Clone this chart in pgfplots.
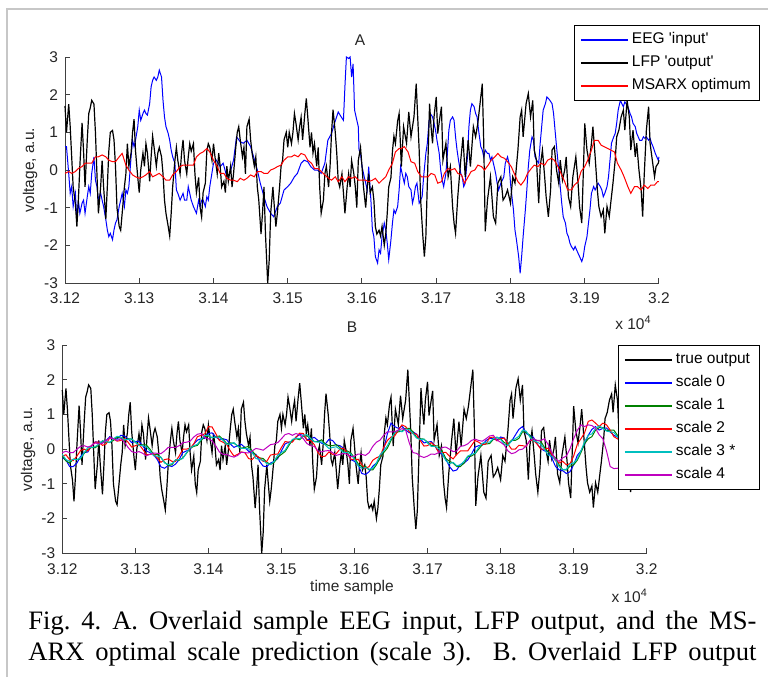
\documentclass[border=0pt]{standalone}
\usepackage{fontspec}
\setmainfont{Liberation Sans}
\newfontfamily\capfont{Liberation Serif}
\usepackage{pgfplots}
\usepackage{pgfplotstable}
\pgfplotsset{compat=1.18}

\definecolor{mgreen}{rgb}{0,0.5,0}
\definecolor{mcyan}{rgb}{0,0.75,0.75}
\definecolor{mmag}{rgb}{0.75,0,0.75}
\definecolor{mblue}{rgb}{0,0,1}
\definecolor{mred}{rgb}{1,0,0}
\definecolor{framegray}{gray}{0.78}
\newcommand{\mfont}{\fontsize{7.75}{9}\selectfont}

% LFP output (same trace in A and B)
\pgfplotstableread{
s v
31200 1.7
31202 1.0
31205 1.75
31207 1.15
31209 0.35
31211 -0.45
31214 -0.9
31216 -1.5
31218 -0.8
31220 0.1
31223 1.25
31225 0.5
31227 -0.45
31230 0.8
31232 1.5
31234 1.65
31236 1.85
31239 1.75
31241 1.0
31243 -0.1
31245 -1.15
31248 -0.45
31250 0.25
31252 -0.45
31255 -1.3
31257 -0.45
31259 0.5
31261 1.0
31264 1.05
31266 0.8
31268 0.1
31270 -1.0
31273 -1.5
31275 -1.6
31277 -1.15
31280 -0.45
31282 -0.1
31284 0.7
31286 0.1
31289 0.45
31291 1.0
31293 1.35
31295 0.5
31298 -0.2
31300 -0.6
31302 0.0
31305 0.45
31307 0.1
31309 0.7
31311 0.45
31314 -0.3
31316 0.35
31318 0.9
31320 0.6
31323 0.1
31325 0.45
31327 0.6
31330 0.35
31332 -0.1
31334 -0.8
31336 -1.15
31339 -1.5
31341 -1.75
31343 -1.15
31345 -0.45
31348 0.25
31350 0.6
31352 0.25
31355 -0.1
31357 0.45
31359 0.8
31361 0.25
31364 -0.1
31366 0.35
31368 0.7
31370 0.5
31373 0.7
31375 -0.1
31377 -0.6
31380 -0.2
31382 -1.0
31384 -1.25
31386 -0.6
31389 -0.35
31391 0.5
31393 0.7
31395 0.6
31398 0.25
31400 0.7
31402 0.35
31405 -0.1
31407 0.45
31409 0.1
31411 -0.45
31414 -0.3
31416 -0.6
31418 0.1
31420 -0.3
31423 0.1
31425 -0.45
31427 -0.1
31430 0.6
31432 1.0
31434 1.15
31436 0.8
31439 0.35
31441 0.6
31443 -0.1
31445 1.15
31448 1.35
31450 0.8
31452 0.45
31455 0.1
31457 0.35
31459 -0.45
31461 -0.8
31464 -1.7
31466 -1.15
31468 -0.45
31470 -1.7
31473 -3.0
31475 -2.4
31477 -1.15
31480 -0.45
31482 -1.0
31484 -1.5
31486 -1.15
31489 -0.45
31491 0.1
31493 0.25
31495 0.8
31498 1.0
31500 0.6
31502 1.0
31505 0.7
31507 1.0
31509 1.5
31511 1.25
31514 0.8
31516 1.15
31518 1.4
31520 0.8
31523 1.5
31525 1.9
31527 1.4
31530 0.6
31532 1.0
31534 0.45
31536 0.7
31539 0.1
31541 0.6
31543 -0.45
31545 -1.15
31548 -0.8
31550 -0.1
31552 0.1
31555 -0.45
31557 0.1
31559 1.0
31561 1.6
31564 1.0
31566 0.45
31568 -0.3
31570 -0.45
31573 -0.1
31575 -0.6
31577 -1.15
31580 -0.45
31582 -0.1
31584 -0.45
31586 0.25
31589 -0.1
31591 -0.45
31593 -1.0
31595 0.25
31598 0.6
31600 0.1
31602 -0.45
31605 -1.0
31607 -0.45
31609 -0.1
31611 -0.6
31614 -0.45
31616 -0.8
31618 -1.5
31620 -1.7
31623 -1.6
31625 -1.75
31627 -1.5
31630 -2.0
31632 -1.7
31634 -1.15
31636 -0.45
31639 -0.2
31641 0.5
31643 0.9
31645 0.7
31648 1.3
31650 1.5
31653 0.09
31656 1.15
31660 0.71
31663 1.54
31666 0.88
31670 1.41
31673 2.29
31675 1.41
31677 0.53
31679 -0.80
31682 -1.77
31684 -2.30
31686 -1.77
31688 -0.35
31691 1.76
31693 1.15
31695 0.71
31697 1.41
31700 1.94
31702 0.97
31705 1.41
31707 1.68
31709 0.26
31713 0.71
31716 -0.18
31719 0.09
31722 -0.97
31724 -1.41
31726 -1.68
31729 -0.71
31733 0.26
31736 0.88
31739 -0.18
31743 0.79
31746 0.09
31750 1.15
31753 0.88
31756 1.24
31760 1.94
31762 2.29
31764 0.71
31766 -1.63
31769 -0.80
31773 -0.18
31777 -1.24
31780 -1.41
31783 -0.35
31787 -0.18
31790 -0.80
31793 -0.70
31796 -0.53
31800 -0.88
31803 -0.18
31806 -0.35
31810 0.53
31813 1.41
31815 1.59
31817 0.88
31821 1.76
31824 2.03
31827 1.41
31830 1.85
31832 0.53
31835 0.26
31838 -0.88
31840 0.09
31843 0.53
31846 -0.18
31848 -0.71
31851 -1.24
31854 -0.53
31856 0.53
31859 0.62
31862 0.0
31865 -0.35
31867 0.26
31870 -0.27
31873 0.0
31875 0.35
31878 -0.71
31881 -0.97
31884 -0.18
31888 0.35
31891 -0.35
31893 -0.97
31896 -1.41
31899 0.53
31900 1.24
31903 0.53
31906 0.18
31909 0.71
31911 1.15
31914 0.35
31917 -0.53
31919 -0.97
31922 -1.24
31925 -1.06
31927 -1.68
31930 -0.97
31933 -1.24
31935 -0.88
31938 -0.35
31941 0.26
31943 0.88
31946 1.06
31949 1.41
31952 1.59
31954 1.06
31957 1.85
31960 1.41
31962 0.53
31965 1.06
31968 0.35
31970 0.71
31973 0.0
31976 -0.53
31978 -1.24
31980 -0.18
31983 1.06
31986 1.68
31988 0.71
31991 0.26
31994 -0.18
31996 0.09
31999 0.18
32000 0.26
}\lfp

% EEG input
\pgfplotstableread{
s v
31200 0.62
31202 0.62
31205 -0.09
31207 -0.62
31209 -0.44
31211 -0.97
31214 -0.62
31216 -1.32
31218 -0.80
31220 -1.15
31223 -0.88
31225 -0.80
31227 -1.15
31230 -0.71
31232 -0.44
31234 -0.62
31236 -0.09
31239 0.35
31241 -0.27
31243 -0.44
31245 -0.80
31248 -0.62
31250 -0.80
31252 -0.97
31255 -1.32
31257 -1.59
31259 -1.77
31261 -1.68
31264 -1.85
31266 -1.59
31268 -1.41
31270 -1.32
31273 -0.97
31275 -0.80
31277 -0.62
31280 -0.97
31282 -0.53
31284 -0.62
31286 -0.44
31289 0.35
31291 0.79
31293 0.62
31295 0.79
31298 1.15
31300 1.59
31302 1.32
31305 1.50
31307 1.59
31309 1.50
31311 1.46
31314 1.76
31316 2.21
31318 2.38
31320 2.47
31323 2.38
31325 2.47
31327 2.65
31330 2.47
31332 1.85
31334 1.41
31336 1.15
31339 0.97
31341 0.79
31343 0.53
31345 0.35
31348 0.18
31350 -0.53
31352 -0.62
31355 -0.80
31357 -0.71
31359 -0.62
31361 -0.80
31364 -0.80
31366 -0.44
31368 -0.62
31370 -0.80
31373 -0.97
31375 -1.06
31377 -1.15
31380 -0.80
31382 -0.97
31384 -0.80
31386 -0.80
31389 -0.97
31391 -0.71
31393 -0.80
31395 -0.44
31400 0.18
31404 0.26
31409 0.09
31413 0.18
31418 -0.18
31422 -0.09
31427 0.26
31431 0.88
31436 0.75
31440 0.71
31445 0.79
31450 0.62
31454 0.35
31459 0.0
31463 -0.35
31468 -0.71
31472 -0.97
31477 -1.15
31481 -1.24
31486 -0.97
31490 -0.88
31495 -0.53
31500 -0.44
31504 -0.35
31509 -0.18
31513 -0.09
31518 0.18
31522 0.26
31527 0.22
31531 0.09
31536 0.0
31540 0.0
31545 -0.09
31550 0.18
31554 0.79
31559 0.97
31563 1.24
31568 1.54
31572 1.41
31575 1.32
31577 2.21
31579 3.0
31582 2.96
31584 3.0
31586 2.47
31588 2.82
31590 1.59
31595 1.15
31596 0.53
31598 0.44
31600 0.10
31603 -0.18
31605 -0.35
31607 -0.53
31609 0.09
31612 -0.80
31614 -1.59
31616 -1.77
31618 -2.30
31621 -2.47
31623 -2.12
31625 -2.21
31627 -1.77
31630 -1.41
31632 -1.59
31634 -1.94
31636 -2.38
31639 -1.85
31641 -1.41
31643 -1.06
31645 -1.15
31648 -0.97
31650 -0.53
31652 0.09
31654 -0.09
31657 -0.35
31659 -0.09
31661 -0.18
31663 -0.44
31666 -0.53
31668 -0.88
31670 -0.71
31672 -0.44
31674 -0.35
31677 -0.88
31679 -0.80
31681 -0.71
31683 -0.18
31686 0.44
31688 0.71
31690 1.24
31692 1.50
31695 1.41
31697 1.24
31699 1.06
31701 0.79
31704 0.44
31706 0.0
31708 -0.27
31710 -0.44
31713 -0.09
31715 0.44
31717 1.06
31719 1.32
31722 1.41
31724 1.32
31726 0.88
31728 0.53
31730 0.26
31733 -0.09
31735 -0.18
31737 -0.44
31739 -0.35
31742 0.35
31744 1.15
31746 1.59
31748 1.76
31751 1.68
31753 1.50
31755 1.41
31757 1.06
31760 0.62
31762 0.53
31764 0.35
31766 0.53
31769 0.44
31771 0.44
31773 0.26
31775 0.35
31778 0.09
31780 -0.09
31782 -0.35
31784 -0.53
31787 -0.35
31789 -0.27
31791 -0.18
31793 0.18
31796 0.35
31798 0.18
31800 -0.35
31802 -0.71
31804 -1.06
31806 -1.59
31808 -1.85
31811 -2.30
31813 -2.74
31815 -2.30
31817 -1.77
31820 -1.06
31822 -0.53
31824 0.09
31826 0.53
31829 0.88
31831 0.79
31833 0.35
31835 0.26
31838 0.18
31840 0.71
31842 1.15
31844 1.59
31847 1.76
31849 1.94
31851 1.90
31853 1.85
31856 1.76
31858 1.50
31860 1.06
31862 0.62
31865 0.0
31867 -0.44
31869 -0.88
31871 -1.24
31874 -1.41
31876 -1.68
31878 -1.77
31880 -1.94
31882 -2.03
31885 -2.12
31887 -2.03
31889 -2.12
31891 -2.21
31894 -2.34
31896 -2.43
31898 -2.30
31900 -2.03
31903 -1.77
31905 -1.41
31907 -1.06
31909 -0.62
31912 -0.44
31914 -0.53
31916 -0.44
31918 -0.35
31921 -0.44
31923 -0.53
31925 -0.71
31927 -0.62
31930 -0.44
31932 -0.18
31934 0.26
31936 0.71
31939 0.88
31941 0.97
31943 1.24
31945 1.59
31948 1.85
31950 1.76
31952 1.68
31954 1.81
31957 1.72
31959 1.63
31961 1.50
31963 1.41
31965 1.24
31968 1.15
31970 0.97
31972 0.88
31974 0.79
31977 0.79
31979 0.88
31981 0.84
31983 0.88
31986 0.79
31988 0.84
31990 0.71
31992 0.62
31995 0.44
31997 0.35
31999 0.26
32000 0.35
}\eeg

% MSARX optimum
\pgfplotstableread{
s v
31200 -0.09
31205 -0.04
31209 -0.09
31214 -0.04
31218 0.04
31223 0.09
31227 0.18
31232 0.18
31236 0.18
31241 0.35
31245 0.35
31250 0.40
31255 0.35
31259 0.26
31264 0.22
31268 0.22
31273 0.35
31277 0.44
31282 0.13
31286 0.0
31291 -0.13
31295 -0.18
31300 -0.22
31305 -0.18
31309 -0.13
31314 -0.04
31318 -0.18
31323 -0.13
31327 -0.09
31332 -0.18
31336 -0.27
31341 -0.27
31345 -0.13
31350 -0.04
31355 0.09
31359 0.13
31364 0.13
31368 0.13
31373 0.13
31377 0.35
31382 0.44
31386 0.48
31391 0.57
31395 0.48
31400 0.26
31405 0.09
31409 -0.09
31414 -0.09
31418 -0.22
31423 -0.27
31427 -0.27
31432 -0.31
31436 -0.22
31441 -0.27
31445 -0.22
31450 -0.13
31455 -0.18
31459 -0.04
31464 -0.04
31468 -0.09
31473 -0.09
31477 0.0
31482 0.04
31486 0.09
31491 0.13
31495 0.26
31500 0.35
31505 0.35
31509 0.40
31514 0.35
31518 0.44
31523 0.40
31527 0.26
31532 0.18
31536 0.04
31541 0.04
31545 -0.04
31550 -0.13
31555 -0.22
31559 -0.27
31564 -0.18
31568 -0.31
31573 -0.18
31577 -0.31
31582 -0.18
31586 -0.22
31591 -0.18
31595 -0.27
31600 -0.27
31605 -0.27
31609 -0.31
31614 -0.27
31618 -0.22
31623 -0.35
31627 -0.27
31632 -0.18
31636 0.0
31641 0.18
31645 0.48
31650 0.57
31653 0.57
31657 0.62
31662 0.48
31666 0.22
31671 0.18
31675 -0.04
31680 -0.18
31684 -0.18
31689 -0.18
31693 -0.09
31698 -0.13
31702 -0.35
31707 -0.31
31711 -0.09
31716 0.04
31720 0.0
31725 0.04
31729 -0.09
31734 -0.13
31738 -0.35
31743 -0.18
31747 -0.04
31752 0.0
31756 0.13
31761 0.09
31765 0.0
31770 0.13
31774 0.26
31779 0.35
31783 0.44
31787 0.35
31792 0.31
31796 0.22
31801 0.09
31805 -0.09
31810 -0.31
31814 -0.40
31819 -0.27
31823 -0.09
31828 0.04
31832 0.13
31837 0.09
31841 0.18
31846 0.13
31850 0.26
31855 0.31
31859 0.26
31864 0.09
31868 -0.09
31873 -0.31
31877 -0.53
31882 -0.53
31886 -0.40
31891 -0.31
31895 -0.04
31900 0.09
31904 0.26
31909 0.53
31913 0.79
31918 0.79
31922 0.66
31926 0.62
31931 0.57
31935 0.53
31940 0.48
31944 0.18
31949 0.0
31953 -0.18
31958 -0.44
31962 -0.62
31967 -0.44
31971 -0.44
31976 -0.53
31980 -0.40
31985 -0.49
31989 -0.40
31994 -0.40
31998 -0.31
32000 -0.31
}\msarx

% scale predictions, panel B
\pgfplotstableread{
s c0 c1 c2 c3 c4
31200 -0.25 -0.2 -0.2 -0.15 -0.1
31205 -0.31 -0.34 -0.16 -0.30 -0.06
31210 -0.5 -0.4 -0.3 -0.35 -0.1
31215 -0.50 -0.29 -0.33 -0.29 -0.10
31220 -0.4 -0.3 -0.2 -0.3 0.0
31225 -0.21 -0.28 -0.04 -0.26 0.08
31230 -0.1 -0.12 0.0 -0.1 0.1
31235 -0.08 -0.01 -0.05 0.05 0.06
31240 0.1 0.05 0.1 0.05 0.1
31245 0.21 0.04 0.20 0.07 0.18
31250 0.2 0.12 0.2 0.15 0.15
31255 0.20 0.24 0.11 0.24 0.17
31260 0.25 0.2 0.15 0.22 0.25
31265 0.36 0.20 0.33 0.19 0.32
31270 0.3 0.25 0.3 0.3 0.3
31275 0.29 0.34 0.23 0.37 0.25
31280 0.4 0.32 0.25 0.35 0.3
31285 0.38 0.25 0.31 0.27 0.21
31290 0.3 0.3 0.2 0.28 0.05
31295 0.19 0.29 0.06 0.30 -0.07
31300 0.22 0.2 0.1 0.2 -0.1
31305 0.23 0.12 0.14 0.10 -0.07
31310 0.1 0.12 0.0 0.1 -0.12
31315 -0.05 0.12 -0.16 0.07 -0.19
31320 -0.1 0.0 -0.15 -0.05 -0.15
31325 -0.16 -0.15 -0.14 -0.19 -0.11
31330 -0.3 -0.15 -0.25 -0.2 -0.12
31335 -0.51 -0.24 -0.38 -0.23 -0.13
31340 -0.55 -0.38 -0.3 -0.4 -0.05
31345 -0.47 -0.47 -0.28 -0.44 0.05
31350 -0.5 -0.45 -0.35 -0.42 0.05
31355 -0.43 -0.31 -0.35 -0.31 0.05
31360 -0.3 -0.32 -0.2 -0.3 0.1
31365 -0.10 -0.25 0.0 -0.27 0.19
31370 -0.05 -0.12 0.0 -0.1 0.2
31375 -0.01 0.03 0.03 0.04 0.23
31380 0.15 0.08 0.15 0.1 0.35
31385 0.26 0.11 0.36 0.14 0.43
31390 0.3 0.25 0.4 0.28 0.45
31395 0.31 0.36 0.44 0.40 0.34
31400 0.45 0.38 0.65 0.4 0.3
31405 0.47 0.33 0.64 0.33 0.24
31410 0.35 0.35 0.45 0.35 0.1
31415 0.28 0.38 0.25 0.34 -0.08
31420 0.3 0.28 0.2 0.25 -0.15
31425 0.27 0.16 0.14 0.14 -0.15
31430 0.15 0.18 -0.05 0.15 -0.2
31435 0.05 0.17 -0.20 0.19 -0.23
31440 0.1 0.1 -0.15 0.08 -0.18
31445 0.14 0.03 -0.08 0.02 -0.09
31450 0.05 0.05 -0.1 0.02 -0.1
31455 -0.06 0.08 -0.27 0.01 -0.11
31460 -0.1 -0.05 -0.3 -0.1 -0.05
31465 -0.15 -0.18 -0.18 -0.27 0.02
31470 -0.35 -0.25 -0.25 -0.3 0.0
31475 -0.49 -0.27 -0.35 -0.32 -0.03
31480 -0.5 -0.38 -0.35 -0.42 0.05
31485 -0.40 -0.44 -0.17 -0.44 0.13
31490 -0.35 -0.38 -0.15 -0.35 0.15
31495 -0.27 -0.23 -0.14 -0.17 0.19
31500 -0.05 -0.15 0.05 -0.1 0.3
31505 0.15 -0.07 0.22 -0.03 0.42
31510 0.2 0.1 0.2 0.15 0.45
31515 0.23 0.26 0.20 0.28 0.40
31520 0.35 0.3 0.35 0.32 0.45
31525 0.42 0.27 0.46 0.30 0.41
31530 0.4 0.38 0.45 0.4 0.3
31535 0.27 0.38 0.25 0.42 0.16
31540 0.3 0.32 0.25 0.3 0.1
31545 0.34 0.22 0.13 0.22 0.08
31550 0.25 0.22 -0.1 0.2 -0.05
31555 0.17 0.27 -0.22 0.21 -0.08
31560 0.15 0.15 -0.2 0.12 -0.05
31565 0.28 0.10 -0.08 0.02 -0.04
31570 0.25 0.1 -0.15 0.05 -0.1
31575 0.12 0.13 -0.13 0.07 -0.18
31580 0.1 0.05 0.0 0.0 -0.15
31585 0.03 -0.06 0.03 -0.10 -0.12
31590 -0.1 -0.05 -0.1 -0.1 -0.15
31595 -0.30 -0.11 -0.29 -0.14 -0.22
31600 -0.35 -0.25 -0.3 -0.3 -0.2
31605 -0.46 -0.42 -0.29 -0.48 -0.14
31610 -0.7 -0.5 -0.45 -0.55 -0.15
31615 -0.73 -0.49 -0.56 -0.53 -0.18
31620 -0.65 -0.6 -0.5 -0.58 -0.1
31625 -0.49 -0.60 -0.32 -0.55 0.08
31630 -0.4 -0.45 -0.25 -0.4 0.2
31635 -0.28 -0.25 -0.20 -0.16 0.26
31640 0.0 -0.1 0.05 -0.05 0.4
31645 0.44 0.03 0.25 0.10 0.50
31650 0.75 0.25 0.35 0.3 0.5
31655 0.65 0.46 0.38 0.48 0.50
31660 0.6 0.5 0.55 0.55 0.55
31665 0.66 0.52 0.70 0.50 0.59
31670 0.55 0.6 0.65 0.58 0.55
31675 0.47 0.60 0.50 0.56 0.18
31680 0.5 0.5 0.45 0.45 -0.1
31685 0.43 0.34 0.43 0.32 -0.12
31690 0.3 0.3 0.25 0.28 -0.2
31695 0.18 0.29 0.09 0.29 -0.24
31700 0.2 0.2 0.1 0.18 -0.2
31705 0.22 0.11 0.19 0.08 -0.14
31710 0.1 0.1 0.1 0.08 -0.15
31715 -0.08 0.09 -0.08 0.02 -0.10
31720 -0.15 -0.05 -0.1 -0.12 0.05
31725 -0.29 -0.27 -0.09 -0.33 0.06
31730 -0.5 -0.35 -0.2 -0.42 0.0
31735 -0.63 -0.40 -0.28 -0.38 -0.07
31740 -0.6 -0.5 -0.15 -0.48 -0.05
31745 -0.44 -0.50 -0.05 -0.45 0.08
31750 -0.4 -0.4 -0.05 -0.35 0.1
31755 -0.31 -0.22 -0.05 -0.20 0.15
31760 -0.15 -0.2 0.1 -0.15 0.25
31765 0.06 -0.13 0.25 -0.12 0.29
31770 0.1 0.0 0.2 0.05 0.25
31775 0.12 0.13 0.13 0.17 0.23
31780 0.25 0.15 0.15 0.2 0.3
31785 0.31 0.16 0.33 0.20 0.38
31790 0.3 0.28 0.35 0.3 0.4
31795 0.26 0.33 0.24 0.35 0.26
31800 0.35 0.3 0.3 0.28 0.2
31805 0.32 0.19 0.32 0.14 0.12
31810 0.15 0.15 0.15 0.1 -0.05
31815 0.23 0.26 0.0 0.24 -0.13
31820 0.4 0.25 0.0 0.3 -0.1
31825 0.57 0.31 0.11 0.37 -0.02
31830 0.65 0.5 0.1 0.55 0.0
31835 0.45 0.48 0.08 0.52 0.09
31840 0.4 0.4 0.25 0.35 0.25
31845 0.34 0.28 0.25 0.25 0.30
31850 0.15 0.25 0.15 0.2 0.25
31855 0.02 0.23 0.0 0.15 0.25
31860 -0.05 0.05 0.0 0.0 0.3
31865 -0.07 -0.08 0.03 -0.17 0.14
31870 -0.25 -0.15 -0.15 -0.2 -0.1
31875 -0.49 -0.25 -0.33 -0.31 -0.28
31880 -0.6 -0.45 -0.4 -0.5 -0.35
31885 -0.62 -0.59 -0.35 -0.59 -0.25
31890 -0.7 -0.6 -0.45 -0.58 -0.2
31895 -0.65 -0.49 -0.42 -0.43 0.01
31900 -0.45 -0.45 -0.2 -0.4 0.3
31905 -0.18 -0.32 0.14 -0.28 0.54
31910 -0.05 -0.1 0.3 -0.05 0.7
31915 0.13 0.16 0.47 0.22 0.65
31920 0.4 0.3 0.8 0.4 0.7
31925 0.57 0.36 0.84 0.44 0.68
31930 0.65 0.55 0.75 0.6 0.6
31935 0.55 0.62 0.65 0.67 0.41
31940 0.6 0.62 0.75 0.6 0.3
31945 0.61 0.54 0.70 0.52 -0.05
31950 0.5 0.55 0.55 0.5 -0.5
31955 0.40 0.55 0.36 0.48 -0.56
31960 0.35 0.4 0.3 0.35 -0.55
31970 0.2 0.25 0.1 0.2 -0.5
31980 0.0 0.05 -0.1 0.0 -0.4
31990 -0.1 -0.05 -0.2 -0.1 -0.35
32000 -0.2 -0.15 -0.2 -0.2 -0.3
}\scales

\pgfplotsset{
  matlab/.style={
    scale only axis, clip=false,
    xmin=31200, xmax=32000, ymin=-3, ymax=3,
    axis x line*=bottom, axis y line*=left,
    axis line style={black!75, line width=0.5pt, -},
    tick align=inside,
    major tick length=2.5pt,
    tick style={black!75, line width=0.5pt},
    xtick={31200,31300,...,32000},
    xticklabels={3.12,3.13,3.14,3.15,3.16,3.17,3.18,3.19,3.2},
    ytick={-3,-2,-1,0,1,2,3},
    yticklabels={-3,-2,-1,0,1,2,3},
    scaled x ticks=false,
    ticklabel style={font=\mfont, text=black!85},
    xticklabel style={yshift=-1.5pt},
    every axis plot/.append style={line width=0.5pt},
    every axis title/.style={font=\mfont, text=black!85, anchor=center},
    every axis y label/.style={font=\mfont, text=black!85, rotate=90, anchor=center},
    every axis x label/.style={font=\mfont, text=black!85, anchor=center},
    legend cell align=left,
    legend image code/.code={\draw[##1, line width=0.7pt] (0pt,0pt) -- (23.5pt,0pt);},
    legend style={draw=black, line width=0.5pt, fill=white, font=\mfont,
      inner xsep=2.75pt, inner ysep=1.5pt, row sep=0pt,
      nodes={inner xsep=1.75pt, inner ysep=0pt, text height=7.5pt, text depth=4pt}},
  }
}

\begin{document}
\frenchspacing
\begin{tikzpicture}
\useasboundingbox (0pt,0pt) rectangle (384pt,338.5pt);
\draw[framegray, line width=1pt] (3.5pt,0pt) -- (3.5pt,334pt) -- (384pt,334pt);

% panel A
\begin{axis}[matlab, at={(32.5pt,197pt)}, anchor=south west,
  width=297pt, height=113pt,
  title={A}, title style={at={(axis description cs:0.4966,1.075)}},
  ylabel={voltage, a.u.}, ylabel style={at={(axis description cs:-0.0589,0.5)}},
  legend style={at={(axis description cs:0.857,1.1416)}, anchor=north west}]
\addplot[mblue] table[x=s,y=v] {\eeg};
\addlegendentry{EEG \textquotesingle input\textquotesingle}
\addplot[black, line width=0.6pt] table[x=s,y=v] {\lfp};
\addlegendentry{LFP \textquotesingle output\textquotesingle}
\addplot[mred] table[x=s,y=v] {\msarx};
\addlegendentry{MSARX optimum}
\node[font=\mfont, text=black!85] at (axis description cs:0.957,-0.177) {x 10\textsuperscript{4}};
\end{axis}

% panel B
\begin{axis}[matlab, at={(31.15pt,61.85pt)}, anchor=south west,
  width=292.2pt, height=104.15pt,
  title={B}, title style={at={(axis description cs:0.4957,1.0864)}},
  ylabel={voltage, a.u.}, ylabel style={at={(axis description cs:-0.0587,0.5)}},
  xlabel={time sample}, xlabel style={at={(axis description cs:0.4957,-0.162)}},
  legend style={at={(axis description cs:0.951,1.0)}, anchor=north west}]
\addplot[black, line width=0.6pt] table[x=s,y=v] {\lfp};
\addlegendentry{true output}
\addplot[mblue] table[x=s,y=c0] {\scales};
\addlegendentry{scale 0}
\addplot[mgreen] table[x=s,y=c1] {\scales};
\addlegendentry{scale 1}
\addplot[mred] table[x=s,y=c2] {\scales};
\addlegendentry{scale 2}
\addplot[mcyan] table[x=s,y=c3] {\scales};
\addlegendentry{scale 3 *}
\addplot[mmag] table[x=s,y=c4] {\scales};
\addlegendentry{scale 4}
\node[font=\mfont, text=black!85] at (axis description cs:0.971,-0.205) {x 10\textsuperscript{4}};
\end{axis}

% caption
\node[anchor=base west, inner sep=0pt, font=\capfont\fontsize{13.3}{15.5}\selectfont] at (14pt,24pt)
  {\makebox[364pt][s]{Fig. 4. A. Overlaid sample EEG input, LFP output, and the MS-}};
\node[anchor=base west, inner sep=0pt, font=\capfont\fontsize{13.3}{15.5}\selectfont] at (14pt,8.5pt)
  {\makebox[364pt][s]{ARX optimal scale prediction (scale 3).\ \ B. Overlaid LFP output}};
\end{tikzpicture}
\end{document}
